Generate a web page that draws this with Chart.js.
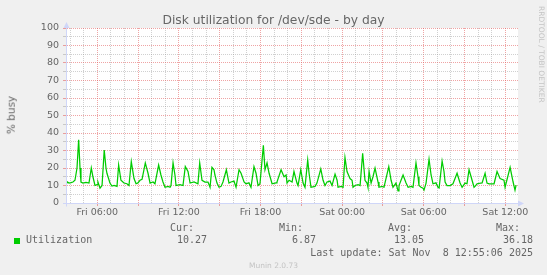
<!DOCTYPE html>
<html><head><meta charset="utf-8">
<script src="https://cdn.jsdelivr.net/npm/chart.js@4.4.1/dist/chart.umd.min.js"></script>
<style>
html,body{margin:0;padding:0;background:#f0f0f0;}
#wrap{position:relative;width:547px;height:275px;overflow:hidden;background:#f0f0f0;}
canvas{position:absolute;left:0;top:0;}
.t{position:absolute;white-space:pre;color:#666;font-family:"DejaVu Sans",sans-serif;line-height:1;}
.mono{font-family:"DejaVu Sans Mono",monospace;font-size:10px;line-height:10px;}
</style></head><body>
<div id="wrap">
<canvas id="c" width="547" height="275"></canvas>
<div class="t" style="left:0;width:547px;text-align:center;top:13.5px;font-size:12.3px;">Disk utilization for /dev/sde - by day</div>
<div class="t" style="left:11px;top:115px;font-size:10.5px;transform:translate(-50%,-50%) rotate(-90deg);">% busy</div>
<div class="t" style="left:537px;top:6px;font-size:7.5px;color:#c4c4c4;writing-mode:vertical-rl;">RRDTOOL / TOBI OETIKER</div>
<div class="t mono" style="right:353px;top:223px;">Cur:</div>
<div class="t mono" style="right:244px;top:223px;">Min:</div>
<div class="t mono" style="right:135px;top:223px;">Avg:</div>
<div class="t mono" style="right:27px;top:223px;">Max:</div>
<div style="position:absolute;left:14px;top:238px;width:6px;height:6px;background:#00cc00;"></div>
<div class="t mono" style="left:26px;top:235px;">Utilization</div>
<div class="t mono" style="right:340px;top:235px;">10.27</div>
<div class="t mono" style="right:231px;top:235px;">6.87</div>
<div class="t mono" style="right:123px;top:235px;">13.05</div>
<div class="t mono" style="right:14px;top:235px;">36.18</div>
<div class="t mono" style="right:14px;top:248px;">Last update: Sat Nov  8 12:55:06 2025</div>
<div class="t" style="left:0;width:547px;text-align:center;top:262px;font-size:7.5px;color:#c4c4c4;">Munin 2.0.73</div>
</div>
<script>
// time in hours since Fri 00:00
const times = [3.70,3.77,3.92,4.07,4.21,4.36,4.51,4.63,4.73,4.80,4.95,5.17,5.39,5.56,5.68,5.83,5.98,6.05,6.20,6.35,6.51,6.64,6.71,6.93,7.08,7.23,7.45,7.57,7.74,7.96,8.18,8.33,8.50,8.70,8.85,8.99,9.14,9.29,9.53,9.73,9.88,10.10,10.24,10.51,10.68,10.83,10.98,11.20,11.35,11.42,11.57,11.71,11.79,12.08,12.30,12.47,12.67,12.82,13.11,13.40,13.53,13.70,13.92,14.14,14.29,14.43,14.58,14.65,14.80,14.95,15.10,15.24,15.49,15.68,15.83,16.05,16.20,16.42,16.57,16.79,16.93,17.15,17.30,17.52,17.67,17.82,17.96,18.04,18.21,18.33,18.48,18.63,18.85,19.14,19.21,19.51,19.73,19.88,19.95,20.10,20.32,20.46,20.68,20.76,20.96,21.13,21.27,21.47,21.57,21.71,22.01,22.15,22.43,22.60,22.74,22.89,23.11,23.26,23.48,23.63,23.70,23.92,24.07,24.21,24.36,24.58,24.73,24.80,24.95,25.17,25.32,25.51,25.68,25.83,25.90,25.98,26.13,26.27,26.42,26.64,26.71,26.93,27.08,27.43,27.60,27.74,27.96,28.11,28.18,28.48,28.70,28.85,29.07,29.21,29.43,29.58,29.65,29.80,29.95,30.02,30.17,30.39,30.54,30.68,30.90,31.05,31.13,31.35,31.49,31.57,31.71,31.93,32.15,32.45,32.67,32.82,33.04,33.18,33.33,33.48,33.70,33.77,33.92,34.29,34.51,34.65,34.80,35.17,35.39,35.61,35.90,35.98,36.35,36.57,36.71,36.79];
const utilization = [11.5,12.2,11.4,11.6,12,13,20,36.18,20,12,11.4,11.8,11.4,20,15,10,10.5,12,8.5,10,30.3,20,17,11.4,9.7,10,9.5,21.7,13,11.4,11,10,23.6,14,11,11.5,13,13.5,22.9,17,11.4,12,11,21.7,16,12,9,9.5,9,10,22.9,16,10,10.5,10,20.8,18,11.4,12,11,22.9,13,12,12,9,20.4,19,16,11.4,9,9.5,12,19,11.4,12,12.5,9,19,17,12,11,11.5,9,20.8,17,10,11,18,33,19,22.9,17,11,11.5,12,19,15,16,11.4,13,12,18,11.4,10,19,11.4,9,24.6,17,9,9.5,11.4,19.5,13,10,12,12.5,10,16.5,13,9,9.5,9,26,18,14,13,9,10,10.5,10,28.4,13,11.4,9,18,11.4,15,20,12,9,9.5,9,20.8,13,9,11.4,6.87,10,16,11.4,9,9.5,9,22.9,15,10,9,8.5,7.4,11.4,25,16,11,11.5,9,8.6,24,18,12,10,10,11,17,11.4,9,11.4,11,19,15,9,9.5,11,11.5,17,11.4,11,11,18,14,13,9,20.4,12,7.4,10.27];
const tickHours = [6,12,18,24,30,36];
const tickLabels = ['Fri 06:00','Fri 12:00','Fri 18:00','Sat 00:00','Sat 06:00','Sat 12:00'];
const xRange = [3.70, 36.93];
const yRange = [0, 100];

const RED = 'rgba(225,90,90,0.55)';
const GRAY = 'rgba(150,150,150,0.45)';
const AXIS = '#CFD6F8';
const FONT = {family:'DejaVu Sans', size:9.5};

const axisArrows = {
  id:'axisArrows',
  afterDraw(chart){
    const {ctx, chartArea:a} = chart;
    ctx.save();
    ctx.fillStyle = AXIS; ctx.strokeStyle = AXIS; ctx.lineWidth = 1;
    const lx = Math.round(a.left)+0.5, by = Math.round(a.bottom)+0.5;
    ctx.beginPath(); ctx.moveTo(lx, by+3); ctx.lineTo(lx, a.top-1); ctx.stroke();
    ctx.beginPath(); ctx.moveTo(lx-3, a.top); ctx.lineTo(lx+3, a.top); ctx.lineTo(lx, a.top-6); ctx.closePath(); ctx.fill();
    ctx.beginPath(); ctx.moveTo(a.left-3, by); ctx.lineTo(a.right+1, by); ctx.stroke();
    ctx.beginPath(); ctx.moveTo(a.right, by-3); ctx.lineTo(a.right, by+3); ctx.lineTo(a.right+6, by); ctx.closePath(); ctx.fill();
    ctx.restore();
  }
};
const canvasBg = {
  id:'canvasBg',
  beforeDraw(chart){
    const {ctx, chartArea:a} = chart;
    ctx.save(); ctx.fillStyle = '#ffffff';
    ctx.fillRect(a.left, a.top, a.right-a.left, a.bottom-a.top);
    ctx.restore();
  }
};

new Chart(document.getElementById('c'), {
  type:'line',
  data:{datasets:[{
    label:'Utilization',
    data: times.map((t,i)=>({x:t, y:utilization[i]})),
    borderColor:'#00cc00', borderWidth:1.25, pointRadius:0, tension:0, fill:false
  }]},
  options:{
    responsive:false, animation:false, devicePixelRatio:1,
    layout:{padding:{left:0, top:28, right:29, bottom:0}},
    plugins:{legend:{display:false}, tooltip:{enabled:false}, title:{display:false}},
    scales:{
      x:{
        type:'linear', min:xRange[0], max:xRange[1],
        afterBuildTicks(s){ const t=[]; for(let h=Math.ceil(xRange[0]); h<=xRange[1]; h++) t.push({value:h}); s.ticks=t; },
        afterFit(s){ s.height = 72; },
        ticks:{autoSkip:false, maxRotation:0, padding:1, color:'#666', font:FONT,
          callback(v){ const i = tickHours.indexOf(v); return i>=0 ? tickLabels[i] : ''; }},
        grid:{color:c=> (c.tick && c.tick.value%3===0) ? RED : GRAY, tickLength:3,
          tickColor:c=> (c.tick && c.tick.value%3===0) ? RED : 'rgba(0,0,0,0)'},
        border:{color:AXIS, dash:[1,1], dashOffset:0}
      },
      y:{
        min:yRange[0], max:yRange[1],
        afterBuildTicks(s){ const t=[]; for(let v=yRange[0]; v<=yRange[1]; v+=5) t.push({value:v}); s.ticks=t; },
        afterFit(s){ s.width = 66; },
        ticks:{autoSkip:false, padding:4, color:'#666', font:FONT,
          callback(v){ return v%10===0 ? String(v) : ''; }},
        grid:{color:c=> (c.tick && c.tick.value%10===0) ? RED : GRAY, tickLength:3,
          tickColor:c=> (c.tick && c.tick.value%10===0) ? RED : GRAY},
        border:{color:AXIS, dash:[1,1], dashOffset:0}
      }
    }
  },
  plugins:[canvasBg, axisArrows]
});
</script>
</body></html>
